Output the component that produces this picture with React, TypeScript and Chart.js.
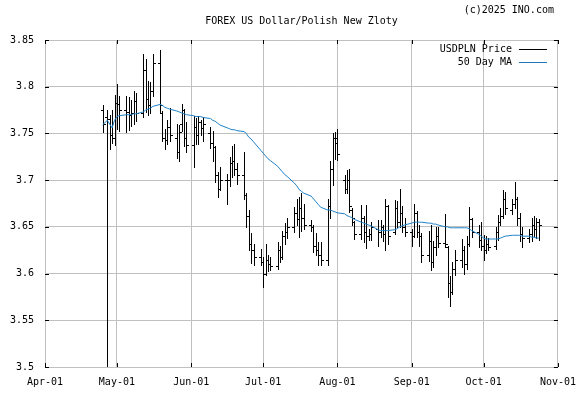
import React, { useEffect, useRef } from 'react';
import { Chart, registerables } from 'chart.js';

Chart.register(...registerables);

const YEAR = 2025;
const FONT = '"DejaVu Sans Mono", monospace';
const titleText = 'FOREX US Dollar/Polish New Zloty';
const creditText = '(c)2025 INO.com';
const priceLabel = 'USDPLN Price';
const maLabel = '50 Day MA';

const monthTicks = ['04-01', '05-01', '06-01', '07-01', '08-01', '09-01', '10-01', '11-01'];
const monthLabels = ['Apr-01', 'May-01', 'Jun-01', 'Jul-01', 'Aug-01', 'Sep-01', 'Oct-01', 'Nov-01'];
const yTicks = [3.5, 3.55, 3.6, 3.65, 3.7, 3.75, 3.8, 3.85];

const dates = [
  '04-25', '04-27',
  '04-28', '04-29', '04-30', '05-01', '05-02',
  '05-05', '05-06', '05-07', '05-08', '05-09',
  '05-12', '05-13', '05-14', '05-15', '05-16',
  '05-19', '05-20', '05-21', '05-22', '05-23',
  '05-26', '05-27', '05-28', '05-29', '05-30',
  '06-02', '06-03', '06-04', '06-05', '06-06',
  '06-09', '06-10', '06-11', '06-12', '06-13',
  '06-16', '06-17', '06-18', '06-19', '06-20',
  '06-23', '06-24', '06-25', '06-26', '06-27',
  '06-30', '07-01', '07-02', '07-03', '07-04',
  '07-07', '07-08', '07-09', '07-10', '07-11',
  '07-14', '07-15', '07-16', '07-17', '07-18',
  '07-21', '07-22', '07-23', '07-24', '07-25',
  '07-28', '07-29', '07-30', '07-31', '08-01',
  '08-04', '08-05', '08-06', '08-07', '08-08',
  '08-11', '08-12', '08-13', '08-14', '08-15',
  '08-18', '08-19', '08-20', '08-21', '08-22',
  '08-25', '08-26', '08-27', '08-28', '08-29',
  '09-01', '09-02', '09-03', '09-04', '09-05',
  '09-08', '09-09', '09-10', '09-11', '09-12',
  '09-15', '09-16', '09-17', '09-18', '09-19',
  '09-22', '09-23', '09-24', '09-25', '09-26',
  '09-29', '09-30', '10-01', '10-02', '10-03',
  '10-06', '10-07', '10-08', '10-09', '10-10',
  '10-13', '10-14', '10-15', '10-16', '10-17',
  '10-20', '10-21', '10-22', '10-23', '10-24',
];

const open = [
  3.775, 3.768,
  3.765, 3.748, 3.745, 3.783, 3.782,
  3.775, 3.773, 3.770, 3.772, 3.785,
  3.772, 3.818, 3.787, 3.780, 3.795,
  3.825, 3.772, 3.745, 3.743, 3.757,
  3.745, 3.730, 3.760, 3.775, 3.745,
  3.738, 3.757, 3.748, 3.762, 3.756,
  3.750, 3.740, 3.735, 3.705, 3.690,
  3.700, 3.700, 3.718, 3.720, 3.712,
  3.705, 3.684, 3.662, 3.632, 3.625,
  3.618, 3.612, 3.600, 3.615, 3.610,
  3.608, 3.625, 3.618, 3.640, 3.645,
  3.650, 3.665, 3.658, 3.670, 3.660,
  3.652, 3.650, 3.630, 3.625, 3.620,
  3.614, 3.672, 3.712, 3.745, 3.745,
  3.700, 3.690, 3.700, 3.668, 3.655,
  3.642, 3.660, 3.645, 3.640, 3.642,
  3.648, 3.645, 3.650, 3.642, 3.672,
  3.645, 3.670, 3.655, 3.665, 3.650,
  3.645, 3.640, 3.665, 3.645, 3.640,
  3.620, 3.635, 3.612, 3.628, 3.640,
  3.633, 3.628, 3.590, 3.580, 3.605,
  3.615, 3.625, 3.610, 3.632, 3.658,
  3.645, 3.636, 3.630, 3.625, 3.632,
  3.630, 3.645, 3.655, 3.662, 3.680,
  3.668, 3.675, 3.680, 3.660, 3.642,
  3.638, 3.642, 3.652, 3.648, 3.655,
];

const high = [
  3.780, 3.775,
  3.770, 3.775, 3.791, 3.803, 3.790,
  3.790, 3.789, 3.786, 3.795, 3.793,
  3.835, 3.830, 3.806, 3.805, 3.835,
  3.839, 3.774, 3.755, 3.764, 3.777,
  3.760, 3.759, 3.782, 3.776, 3.762,
  3.769, 3.766, 3.769, 3.764, 3.768,
  3.757, 3.753, 3.737, 3.709, 3.714,
  3.707, 3.725, 3.737, 3.739, 3.718,
  3.730, 3.686, 3.668, 3.643, 3.632,
  3.626, 3.618, 3.632, 3.620, 3.618,
  3.634, 3.630, 3.646, 3.654, 3.660,
  3.671, 3.680, 3.682, 3.686, 3.674,
  3.657, 3.652, 3.643, 3.634, 3.634,
  3.680, 3.720, 3.750, 3.752, 3.755,
  3.705, 3.711, 3.712, 3.670, 3.656,
  3.673, 3.662, 3.673, 3.648, 3.655,
  3.657, 3.657, 3.652, 3.680, 3.673,
  3.679, 3.678, 3.691, 3.672, 3.660,
  3.648, 3.675, 3.667, 3.652, 3.643,
  3.646, 3.652, 3.635, 3.650, 3.650,
  3.664, 3.630, 3.597, 3.612, 3.625,
  3.637, 3.630, 3.640, 3.671, 3.660,
  3.652, 3.655, 3.641, 3.640, 3.638,
  3.650, 3.663, 3.670, 3.689, 3.687,
  3.680, 3.698, 3.682, 3.665, 3.650,
  3.648, 3.660, 3.662, 3.660, 3.658,
];

const low = [
  3.752, 3.400,
  3.733, 3.740, 3.738, 3.755, 3.753,
  3.752, 3.754, 3.758, 3.760, 3.763,
  3.768, 3.773, 3.770, 3.772, 3.790,
  3.772, 3.742, 3.733, 3.739, 3.742,
  3.724, 3.720, 3.753, 3.737, 3.730,
  3.714, 3.739, 3.739, 3.748, 3.742,
  3.734, 3.721, 3.698, 3.682, 3.689,
  3.675, 3.694, 3.703, 3.705, 3.696,
  3.680, 3.650, 3.625, 3.611, 3.609,
  3.609, 3.586, 3.598, 3.603, 3.604,
  3.605, 3.612, 3.616, 3.632, 3.638,
  3.645, 3.652, 3.639, 3.646, 3.648,
  3.646, 3.623, 3.620, 3.609, 3.609,
  3.609, 3.660, 3.695, 3.723, 3.722,
  3.686, 3.686, 3.666, 3.652, 3.637,
  3.637, 3.634, 3.627, 3.636, 3.636,
  3.630, 3.639, 3.635, 3.625, 3.632,
  3.642, 3.650, 3.650, 3.645, 3.640,
  3.630, 3.639, 3.639, 3.630, 3.612,
  3.613, 3.604, 3.607, 3.620, 3.628,
  3.628, 3.575, 3.565, 3.578, 3.598,
  3.607, 3.600, 3.605, 3.630, 3.639,
  3.628, 3.625, 3.614, 3.622, 3.625,
  3.626, 3.636, 3.652, 3.659, 3.664,
  3.664, 3.670, 3.652, 3.635, 3.628,
  3.634, 3.635, 3.640, 3.638, 3.636,
];

const close = [
  3.760, 3.765,
  3.748, 3.745, 3.783, 3.782, 3.775,
  3.773, 3.770, 3.772, 3.785, 3.772,
  3.818, 3.787, 3.780, 3.795, 3.825,
  3.780, 3.745, 3.743, 3.757, 3.748,
  3.730, 3.752, 3.775, 3.745, 3.738,
  3.757, 3.748, 3.762, 3.756, 3.760,
  3.740, 3.735, 3.705, 3.690, 3.700,
  3.700, 3.718, 3.720, 3.712, 3.705,
  3.684, 3.662, 3.632, 3.625, 3.618,
  3.612, 3.600, 3.615, 3.610, 3.608,
  3.625, 3.618, 3.640, 3.645, 3.650,
  3.665, 3.658, 3.670, 3.660, 3.652,
  3.650, 3.630, 3.625, 3.620, 3.615,
  3.672, 3.712, 3.745, 3.740, 3.728,
  3.690, 3.700, 3.672, 3.660, 3.642,
  3.660, 3.645, 3.640, 3.642, 3.650,
  3.645, 3.650, 3.642, 3.672, 3.640,
  3.670, 3.655, 3.665, 3.650, 3.645,
  3.640, 3.665, 3.645, 3.640, 3.620,
  3.635, 3.612, 3.628, 3.640, 3.633,
  3.632, 3.590, 3.580, 3.605, 3.615,
  3.625, 3.610, 3.632, 3.658, 3.645,
  3.636, 3.630, 3.625, 3.632, 3.628,
  3.645, 3.655, 3.662, 3.680, 3.670,
  3.675, 3.680, 3.660, 3.642, 3.638,
  3.642, 3.652, 3.648, 3.655, 3.652,
];

const ma50 = [
  3.759, 3.764,
  3.760, 3.756, 3.764, 3.768, 3.769,
  3.770, 3.770, 3.770, 3.771, 3.771,
  3.773, 3.775, 3.776, 3.777, 3.779,
  3.781, 3.780, 3.778, 3.777, 3.776,
  3.774, 3.773, 3.772, 3.771, 3.770,
  3.769, 3.768, 3.768, 3.768, 3.767,
  3.766, 3.764, 3.763, 3.761, 3.759,
  3.756, 3.755, 3.754, 3.754, 3.753,
  3.752, 3.750, 3.746, 3.744, 3.741,
  3.732, 3.729, 3.726, 3.723, 3.721,
  3.715, 3.712, 3.709, 3.706, 3.704,
  3.697, 3.694, 3.690, 3.688, 3.686,
  3.683, 3.680, 3.677, 3.674, 3.671,
  3.668, 3.668, 3.667, 3.666, 3.665,
  3.664, 3.662, 3.661, 3.660, 3.658,
  3.655, 3.654, 3.653, 3.652, 3.651,
  3.647, 3.646, 3.646, 3.646, 3.646,
  3.647, 3.648, 3.650, 3.651, 3.652,
  3.654, 3.655, 3.655, 3.655, 3.655,
  3.654, 3.654, 3.653, 3.653, 3.652,
  3.650, 3.650, 3.649, 3.649, 3.649,
  3.649, 3.649, 3.649, 3.648, 3.646,
  3.642, 3.640, 3.638, 3.637, 3.637,
  3.637, 3.637, 3.638, 3.639, 3.640,
  3.641, 3.641, 3.641, 3.641, 3.640,
  3.640, 3.639, 3.639, 3.638, 3.638,
];

const dayNum = (md: string) => {
  const [m, d] = md.split('-').map(Number);
  return (Date.UTC(YEAR, m - 1, d) - Date.UTC(YEAR, 3, 1)) / 86400000;
};

const ohlcPlugin = {
  id: 'ohlcBars',
  beforeDatasetsDraw(chart: any) {
    const { ctx, chartArea: ca, scales } = chart;
    const x = scales.x;
    const y = scales.y;
    const pts = chart.data.datasets[0].data as any[];
    ctx.save();
    ctx.beginPath();
    ctx.rect(ca.left, ca.top, ca.right - ca.left, ca.bottom - ca.top);
    ctx.clip();
    ctx.strokeStyle = '#000';
    ctx.lineWidth = 1;
    ctx.beginPath();
    pts.forEach((p) => {
      const px = Math.round(x.getPixelForValue(p.x)) + 0.5;
      const yh = Math.round(y.getPixelForValue(p.h));
      const yl = Math.round(y.getPixelForValue(p.l));
      ctx.moveTo(px, yh);
      ctx.lineTo(px, yl + 1);
      const yo = Math.round(y.getPixelForValue(p.o)) + 0.5;
      ctx.moveTo(px - 2.5, yo);
      ctx.lineTo(px - 0.5, yo);
      const yc = Math.round(y.getPixelForValue(p.y)) + 0.5;
      ctx.moveTo(px + 0.5, yc);
      ctx.lineTo(px + 2.5, yc);
    });
    ctx.stroke();
    ctx.restore();
  },
};

const decorPlugin = {
  id: 'decor',
  afterDraw(chart: any) {
    const { ctx, chartArea: ca, scales } = chart;
    ctx.save();
    // inner black tick marks on all four sides
    ctx.strokeStyle = '#000';
    ctx.lineWidth = 1;
    ctx.beginPath();
    scales.x.ticks.forEach((t: any) => {
      const px = Math.round(scales.x.getPixelForValue(t.value)) + 0.5;
      ctx.moveTo(px, ca.top);
      ctx.lineTo(px, ca.top + 4);
      ctx.moveTo(px, ca.bottom);
      ctx.lineTo(px, ca.bottom - 4);
    });
    scales.y.ticks.forEach((t: any) => {
      const py = Math.round(scales.y.getPixelForValue(t.value)) + 0.5;
      ctx.moveTo(ca.left, py);
      ctx.lineTo(ca.left + 4, py);
      ctx.moveTo(ca.right, py);
      ctx.lineTo(ca.right - 4, py);
    });
    ctx.stroke();

    // title + credit
    ctx.fillStyle = '#000';
    ctx.font = `10px ${FONT}`;
    ctx.textBaseline = 'middle';
    ctx.textAlign = 'center';
    ctx.fillText(titleText, (ca.left + ca.right) / 2, 21);
    ctx.textAlign = 'right';
    ctx.fillText(creditText, ca.right - 4, 10);

    // legend (text then line sample)
    chart.data.datasets.forEach((ds: any, i: number) => {
      const yy = ca.top + 9.5 + i * 13;
      ctx.fillStyle = '#000';
      ctx.textAlign = 'right';
      ctx.fillText(ds.label, ca.right - 46, yy);
      ctx.strokeStyle = ds.legendColor;
      ctx.beginPath();
      ctx.moveTo(ca.right - 39, Math.floor(yy) + 0.5);
      ctx.lineTo(ca.right - 11, Math.floor(yy) + 0.5);
      ctx.stroke();
    });
    ctx.restore();
  },
};

export default function App() {
  const ref = useRef<HTMLCanvasElement | null>(null);

  useEffect(() => {
    if (!ref.current) return;
    const priceData = dates.map((d, i) => ({
      x: dayNum(d), y: close[i], o: open[i], h: high[i], l: low[i],
    }));
    const maData = dates.map((d, i) => ({ x: dayNum(d), y: ma50[i] }));
    const tickDays = monthTicks.map(dayNum);

    const chart = new Chart(ref.current, {
      type: 'line',
      data: {
        datasets: [
          {
            label: priceLabel,
            data: priceData,
            showLine: false,
            pointRadius: 0,
            borderColor: '#000',
            legendColor: '#000',
          } as any,
          {
            label: maLabel,
            data: maData,
            borderColor: '#1f82c8',
            legendColor: '#1f78bd',
            borderWidth: 1,
            pointRadius: 0,
            tension: 0,
            fill: false,
          } as any,
        ],
      },
      options: {
        responsive: false,
        animation: false,
        devicePixelRatio: 1,
        layout: { padding: { top: 40, right: 19, left: 0, bottom: 0 } },
        plugins: {
          legend: { display: false },
          title: { display: false },
          tooltip: { enabled: false },
        },
        scales: {
          x: {
            type: 'linear',
            min: tickDays[0],
            max: tickDays[tickDays.length - 1],
            offset: false,
            afterBuildTicks: (scale: any) => {
              scale.ticks = tickDays.map((v) => ({ value: v }));
            },
            afterFit: (scale: any) => {
              scale.height = 27;
            },
            grid: { color: '#c0c0c0', lineWidth: 1, drawTicks: false, offset: false },
            border: { color: '#c0c0c0' },
            ticks: {
              autoSkip: false,
              maxRotation: 0,
              padding: 9,
              color: '#000',
              font: { family: FONT, size: 10 },
              callback: (_v: any, i: number) => monthLabels[i],
            },
          },
          y: {
            type: 'linear',
            min: yTicks[0],
            max: yTicks[yTicks.length - 1],
            afterBuildTicks: (scale: any) => {
              scale.ticks = yTicks.map((v) => ({ value: v }));
            },
            afterFit: (scale: any) => {
              scale.width = 45;
            },
            grid: { color: '#c0c0c0', lineWidth: 1, drawTicks: false },
            border: { color: '#c0c0c0' },
            ticks: {
              padding: 11,
              color: '#000',
              font: { family: FONT, size: 10 },
              callback: (v: any) => String(Number(v)),
            },
          },
        },
      } as any,
      plugins: [ohlcPlugin, decorPlugin],
    });
    return () => chart.destroy();
  }, []);

  return (
    <div style={{ position: 'fixed', left: 0, top: 0, width: 585, height: 394, background: '#fff' }}>
      <canvas ref={ref} width={585} height={394} style={{ display: 'block' }} />
    </div>
  );
}
